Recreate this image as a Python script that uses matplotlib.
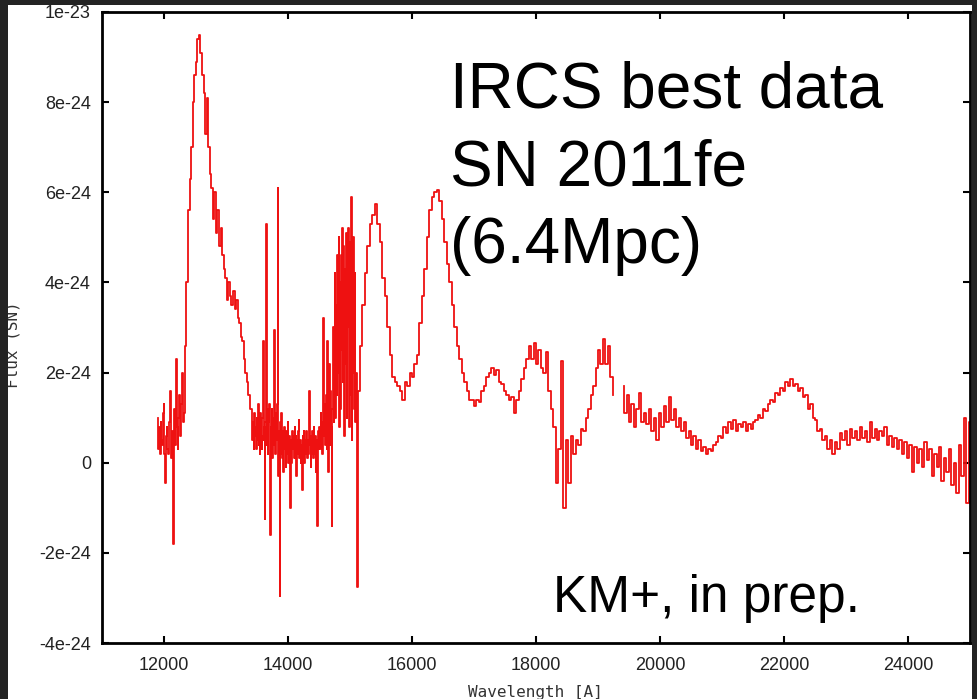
import numpy as np
import matplotlib
matplotlib.use("Agg")
import matplotlib.pyplot as plt
from matplotlib.patches import Rectangle

# --- spectrum (flux in units of 1e-24) ---
# each piece: (first wavelength, last wavelength), evenly sampled flux values
j_blue_range = (11900, 12350)
j_blue_flux = [1.0, 0.3, 0.8, 0.2, 0.9, 0.5, 0.4, 1.1, 1.3, 0.2,
               -0.45, 0.6, 0.8, 0.3, 0.2, 0.9, 1.6, 0.4, 0.1, 0.7,
               -1.8, 0.5, 1.2, 0.4, 2.3, 0.8, 0.3, 1.0, 1.5, 0.6,
               0.6, 1.3, 2.0, 0.9, 1.1, 1.8, 2.6]

j_peak_range = (12375, 13400)
j_peak_flux = [4.0, 5.6, 6.3, 7.0, 8.0, 8.6, 8.9, 9.4, 9.5, 9.1,
               8.6, 8.2, 7.3, 8.1, 7.0, 6.4, 6.1, 5.4, 6.0, 5.1,
               5.6, 4.8, 5.2, 4.6, 4.3, 4.1, 3.6, 4.0, 3.7, 3.5,
               3.8, 3.4, 3.6, 3.2, 3.1, 2.8, 2.7, 2.3, 2.0, 1.8,
               1.5, 1.2]

gap_range = (13420, 15120)
gap_flux = [1.2, 0.5, 0.9, 0.3, 1.1, 0.6, 0.8, 0.3, 1.0, 0.5,
            1.3, 0.4, 0.9, 0.2, 1.1, 0.6, 0.3, 1.0, 2.7, 0.5,
            0.8, -1.25, 0.9, 5.3, 0.4, 1.2, 0.2, 0.9, 1.3, 0.3,
            -1.6, 0.8, 1.2, 0.1, 1.0, 0.4, 2.95, 0.6, 0.2, 1.1,
            0.5, 1.3, 6.1, -0.3, 0.7, -2.95, 0.9, 0.2, 1.1, 0.1,
            0.7, -0.2, 0.8, 0.3, 0.6, -0.1, 0.7, 0.2, 0.9, 0.0,
            0.6, 0.2, -1.0, 0.5, 0.0, 0.7, 0.3, 0.6, 0.1, 0.8,
            0.1, 0.6, -0.3, 0.5, 0.2, 0.7, 0.95, 0.1, 0.5, 0.0,
            0.4, -0.6, 0.6, 0.1, 0.7, 0.0, 0.5, 0.2, 0.7, 0.1,
            0.5, 0.2, 0.6, 1.6, 0.4, -0.1, 0.6, 0.2, 0.7, 0.1,
            0.8, 0.2, 0.6, -0.2, 0.5, 0.1, -1.4, 0.7, 0.3, 0.8,
            0.3, 1.1, 0.4, 0.9, 0.2, 3.2, 0.6, 1.3, 0.4, 1.0,
            1.5, 0.3, 2.7, -0.2, 1.2, 2.2, 0.4, 1.6, 0.8, -1.4,
            1.2, 3.0, 0.9, 2.0, 4.2, 1.0, 3.5, 1.5, 4.6, 2.0,
            5.0, 0.8, 4.0, 1.2, 4.6, 2.5, 5.2, 1.8, 4.8, 0.6,
            4.3, 2.2, 5.1, 1.0, 4.6, 3.0, 5.2, 0.8, 4.9, 1.5,
            5.9, 0.5, 4.7, 2.0, 5.0, 1.2, 4.2, 0.9, 2.0, 0.5,
            -2.75]

h_range = (15140, 19260)
h_flux = [1.6, 2.6, 3.5, 4.2, 4.8, 5.3, 5.5, 5.75, 5.3, 4.9,
          4.1, 3.7, 3.0, 2.4, 1.9, 1.8, 1.7, 1.6, 1.4, 1.8,
          1.7, 2.0, 1.9, 2.2, 2.4, 3.1, 3.7, 4.3, 5.0, 5.6,
          5.9, 6.0, 6.05, 5.8, 5.4, 4.9, 4.4, 4.0, 3.5, 3.0,
          2.6, 2.3, 2.0, 1.8, 1.6, 1.4, 1.4, 1.25, 1.4, 1.35,
          1.6, 1.7, 1.9, 2.0, 2.1, 1.95, 2.05, 1.8, 1.75, 1.6,
          1.5, 1.4, 1.45, 1.1, 1.4, 1.6, 1.85, 2.1, 2.3, 2.6,
          2.3, 2.65, 2.2, 2.5, 2.1, 2.0, 2.45, 1.6, 1.2, 0.8,
          -0.45, 0.3, 2.25, -1.0, 0.5, -0.45, 0.6, 0.2, 0.5, 0.4,
          0.75, 0.7, 1.0, 1.2, 1.5, 1.7, 2.1, 2.5, 2.2, 2.75,
          2.2, 2.6, 1.9, 1.5]

k_range = (19400, 25000)
k_flux = [1.7, 1.1, 1.5, 0.9, 1.3, 0.8, 1.2, 1.55, 0.9, 1.1,
          0.85, 1.2, 0.7, 1.0, 0.5, 1.1, 0.8, 1.25, 0.9, 1.45,
          0.95, 1.2, 0.8, 1.0, 0.7, 0.9, 0.55, 0.7, 0.4, 0.6,
          0.3, 0.5, 0.25, 0.35, 0.2, 0.3, 0.25, 0.4, 0.45, 0.6,
          0.55, 0.8, 0.65, 0.9, 0.75, 0.95, 0.7, 0.85, 0.8, 0.9,
          0.7, 0.85, 0.75, 0.9, 0.95, 1.05, 1.0, 1.2, 1.15, 1.3,
          1.4, 1.35, 1.55, 1.5, 1.65, 1.6, 1.8, 1.7, 1.85, 1.7,
          1.75, 1.6, 1.65, 1.45, 1.5, 1.2, 1.3, 1.0, 0.95, 0.7,
          0.75, 0.5, 0.6, 0.3, 0.5, 0.2, 0.45, 0.3, 0.65, 0.5,
          0.7, 0.4, 0.75, 0.55, 0.7, 0.5, 0.8, 0.55, 0.7, 0.45,
          0.9, 0.55, 0.75, 0.5, 0.7, 0.6, 0.8, 0.4, 0.6, 0.35,
          0.55, 0.3, 0.5, 0.2, 0.45, 0.1, 0.4, -0.2, 0.35, 0.0,
          0.3, -0.1, 0.45, 0.05, 0.3, -0.3, 0.2, -0.1, 0.35, -0.4,
          0.1, -0.2, 0.3, -0.5, 0.0, -0.67, 0.4, -0.3, 1.0, -0.9,
          0.9]

xtick_vals = [12000, 14000, 16000, 18000, 20000, 22000, 24000]
ytick_vals = [-4e-24, -2e-24, 0, 2e-24, 4e-24, 6e-24, 8e-24, 1e-23]
ytick_labels = ["-4e-24", "-2e-24", "0", "2e-24", "4e-24", "6e-24", "8e-24", "1e-23"]

title_lines = ["IRCS best data", "SN 2011fe", "(6.4Mpc)"]
credit = "KM+, in prep."

# --- assemble the spectrum (gap between H and K windows) ---
pieces = [(j_blue_range, j_blue_flux), (j_peak_range, j_peak_flux),
          (gap_range, gap_flux), (h_range, h_flux), (k_range, k_flux)]
wave, flux = [], []
for (lo, hi), fl in pieces:
    wave.append(np.linspace(lo, hi, len(fl)))
    flux.append(np.array(fl) * 1e-24)
    if hi == h_range[1]:
        wave.append([np.nan])
        flux.append([np.nan])
wave = np.concatenate(wave)
flux = np.concatenate(flux)

W, H = 977, 699
fig = plt.figure(figsize=(W / 100, H / 100), dpi=100, facecolor="#232323")
fig.patches.append(Rectangle((8 / W, 0), (972 - 8) / W, (H - 5) / H,
                             transform=fig.transFigure, facecolor="white",
                             edgecolor="none", zorder=-5))

ax = fig.add_axes([102 / W, 1 - 643 / H, (970 - 102) / W, (643 - 12) / H])
ax.plot(wave, flux, color="#ee1111", lw=1.3, drawstyle="steps-mid")

ax.set_xlim(11000, 25000)
ax.set_ylim(-4e-24, 1e-23)
ax.set_xticks(xtick_vals, labels=[str(v) for v in xtick_vals])
ax.set_yticks(ytick_vals, labels=ytick_labels)
ax.tick_params(direction="in", length=5, width=1.5, top=True, right=True,
               labelsize=13, labelcolor="#222222")
ax.tick_params(axis="x", pad=10)
ax.tick_params(axis="y", pad=8)
for lab in ax.get_xticklabels() + ax.get_yticklabels():
    lab.set_family("Liberation Sans")
for sp in ax.spines.values():
    sp.set_linewidth(2)
    sp.set_color("black")

# big annotations
baselines = [108, 186, 263]
for txt, yb in zip(title_lines, baselines):
    fig.text(450 / W, 1 - yb / H, txt, fontsize=46, family="Liberation Sans",
             va="baseline", ha="left", color="black")
fig.text(553 / W, 1 - 612 / H, credit, fontsize=37, family="Liberation Sans",
         va="baseline", ha="left", color="black")

# axis labels (gnuplot terminal font)
fig.text(535 / W, 1 - 693 / H, "Wavelength [A]", fontsize=11.5,
         family="DejaVu Sans Mono", ha="center", va="center", color="#333333")
fig.text(13 / W, 1 - 345 / H, "Flux (SN)", fontsize=11.5, rotation=90,
         family="DejaVu Sans Mono", ha="center", va="center", color="#333333")

# dark screen border drawn over everything
for x0, y0, w, h in [(0, 1 - 5 / H, 1, 5 / H), (0, 0, 8 / W, 1), (972 / W, 0, 1 - 972 / W, 1)]:
    fig.patches.append(Rectangle((x0, y0), w, h, transform=fig.transFigure,
                                 facecolor="#232323", edgecolor="none", zorder=10))

fig.savefig("out.png", dpi=100)
